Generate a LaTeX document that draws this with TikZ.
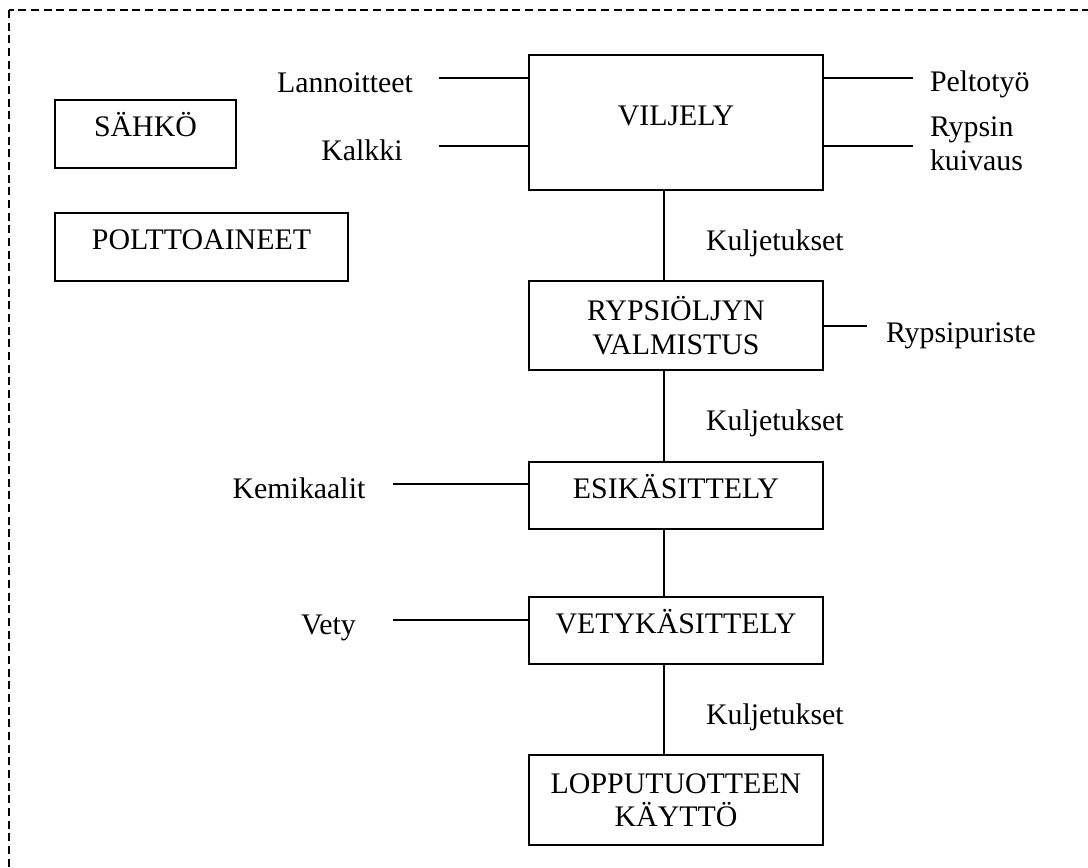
\documentclass[tikz,border=0pt]{standalone}
\usepackage{fontspec}
\setmainfont{Liberation Serif}
\begin{document}
\begin{tikzpicture}[
  x=0.75pt, y=-0.75pt,
  font=\fontsize{22.4pt}{25pt}\selectfont,
  box/.style={draw, line width=1.4pt, rectangle, inner sep=0pt, outer sep=0pt, align=center},
  oneline/.style={text height=0.7em, text depth=0.28em},
  wire/.style={line width=1.2pt},
  lbl/.style={inner sep=0pt, outer sep=0pt},
  frame/.style={line width=0.9pt, dash pattern=on 6pt off 3.5pt}
]
\useasboundingbox (0,0) rectangle (1088,867);

% dashed outer frame, running past the right and bottom edges
\begin{scope}
  \clip (0,0) rectangle (1088,867);
  \draw[frame] (9,10) rectangle (1110,900);
\end{scope}

% energy boxes
\node[box, oneline, minimum width=135.75pt, minimum height=51pt] (sah) at (145.5,134) {SÄHKÖ};
\node[box, oneline, minimum width=219.75pt, minimum height=51pt] (pol) at (201.5,247) {POLTTOAINEET};

% process chain
\node[box, oneline, minimum width=220.5pt, minimum height=101.25pt] (vil) at (676,122.5) {VILJELY};
\node[box, minimum width=220.5pt, minimum height=66.75pt] (ryp) at (676,325.5) {RYPSIÖLJYN\\VALMISTUS};
\node[box, oneline, minimum width=220.5pt, minimum height=50.25pt] (esi) at (676,495.5) {ESIKÄSITTELY};
\node[box, oneline, minimum width=220.5pt, minimum height=50.25pt] (vet) at (676,630.5) {VETYKÄSITTELY};
\node[box, minimum width=220.5pt, minimum height=67.5pt] (lop) at (676,800) {LOPPUTUOTTEEN\\KÄYTTÖ};

% vertical spine between the stages
\coordinate (spine) at (664,0);
\draw[wire] (vil.south -| spine) -- (ryp.north -| spine);
\draw[wire] (ryp.south -| spine) -- (esi.north -| spine);
\draw[wire] (esi.south -| spine) -- (vet.north -| spine);
\draw[wire] (vet.south -| spine) -- (lop.north -| spine);

% transport labels
\node[lbl, anchor=base west] (kul1) at (706,250) {Kuljetukset};
\node[lbl, anchor=base west] (kul2) at (706,430) {Kuljetukset};
\node[lbl, anchor=base west] (kul3) at (706,724) {Kuljetukset};

% inputs on the left
\coordinate (lanE) at (439,78);
\coordinate (kalE) at (439,146);
\coordinate (kemE) at (393,484);
\coordinate (vetE) at (393,620);
\draw[wire] (lanE) -- (lanE -| vil.west);
\draw[wire] (kalE) -- (kalE -| vil.west);
\draw[wire] (kemE) -- (kemE -| esi.west);
\draw[wire] (vetE) -- (vetE -| vet.west);
\node[lbl, anchor=base] (lan) at (345,93) {Lannoitteet};
\node[lbl, anchor=base] (kal) at (362,160) {Kalkki};
\node[lbl, anchor=base] (kem) at (299,498) {Kemikaalit};
\node[lbl, anchor=base] (vety) at (328.5,634) {Vety};

% inputs on the right
\coordinate (pelE) at (913,78);
\coordinate (kuiE) at (913,146);
\coordinate (purE) at (867,326);
\draw[wire] (vil.east |- pelE) -- (pelE);
\draw[wire] (vil.east |- kuiE) -- (kuiE);
\draw[wire] (ryp.east |- purE) -- (purE);
\node[lbl, anchor=base west] (pel) at (930,92) {Peltotyö};
% base anchor of a two-line node sits on its last line
\node[lbl, anchor=base west, align=left] (kui) at (930,170) {Rypsin\\kuivaus};
\node[lbl, anchor=base west] (pur) at (886,342) {Rypsipuriste};
\end{tikzpicture}
\end{document}
